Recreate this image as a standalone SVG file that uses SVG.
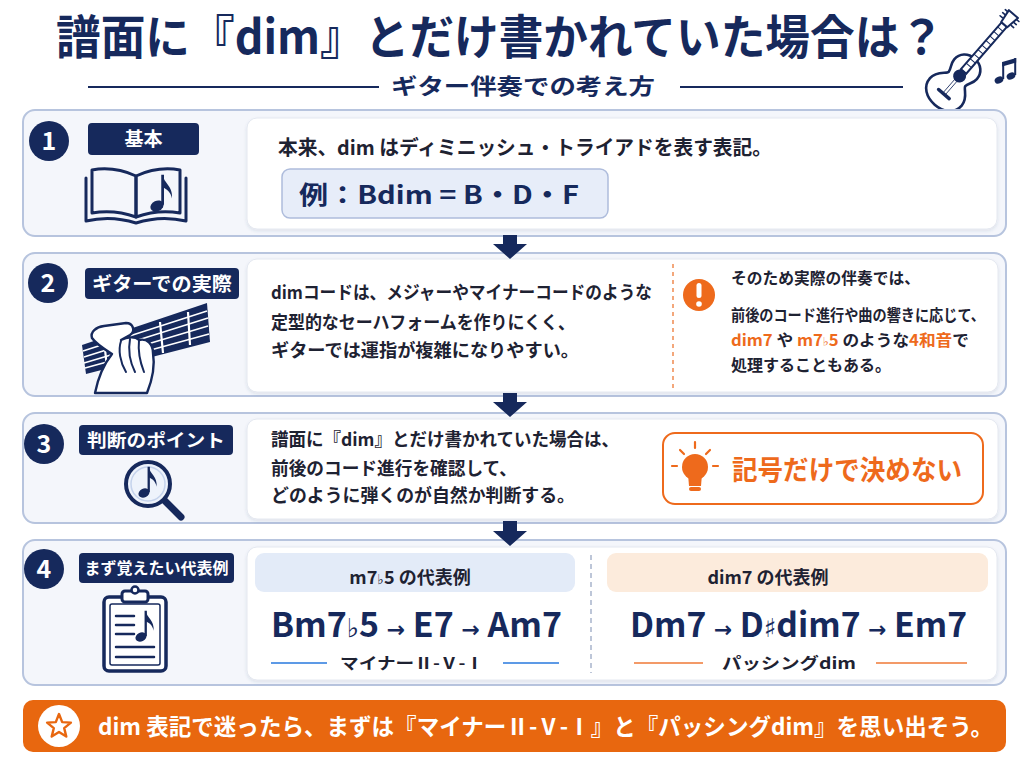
<svg xmlns="http://www.w3.org/2000/svg" width="1024" height="768" viewBox="0 0 1024 768">
<style>
.t{font-family:"Noto Sans CJK JP","Noto Sans",sans-serif;font-weight:700}
.s{font-family:"DejaVu Sans","Noto Sans CJK JP",sans-serif}
.nv{fill:#16295c}
.bd{fill:#1e2232}
.o{fill:#ee6a1c}
.w{fill:#ffffff}
.panel{fill:#f4f6fb;stroke:#b7c4de;stroke-width:2}
.card{fill:#ffffff;stroke:#e4e8f0;stroke-width:1}
.tag{fill:#16295c}
.ic{fill:none;stroke:#16295c;stroke-width:3;stroke-linecap:round;stroke-linejoin:round}
</style>
<defs>
<filter id="sh" x="-5%" y="-5%" width="110%" height="120%">
<feDropShadow dx="0" dy="1.5" stdDeviation="1.5" flood-color="#3a4a70" flood-opacity="0.12"/>
</filter>
<g id="note">
<ellipse cx="0" cy="0" rx="5.5" ry="4.2" transform="rotate(-25)" fill="#16295c"/>
<rect x="3.4" y="-25" width="2.2" height="24" fill="#16295c"/>
<path d="M4.5,-25 C5.5,-18 13,-16 12,-6 C11,-11 8,-13.5 4.5,-15 Z" fill="#16295c"/>
</g>
</defs>
<rect width="1024" height="768" fill="#ffffff"/>

<g id="title">
<text class="t nv" x="56" y="54" font-size="47" font-weight="900" textLength="888" lengthAdjust="spacingAndGlyphs">譜面に『dim』とだけ書かれていた場合は？</text>
<text class="t nv" x="391" y="94" font-size="22" textLength="264" lengthAdjust="spacingAndGlyphs">ギター伴奏での考え方</text>
<line x1="88" y1="87" x2="379" y2="87" stroke="#16295c" stroke-width="2"/>
<line x1="680" y1="87" x2="903" y2="87" stroke="#16295c" stroke-width="2"/>
</g>

<g id="guitar-icon">
<g transform="translate(957,79) rotate(41)">
<path d="M0,-27 C9,-27 15,-21 15,-13 C15,-7 11,-4 11,0 C11,3 21,7 21,17 C21,28 11,34 0,34 C-11,34 -21,28 -21,17 C-21,7 -11,3 -11,0 C-11,-4 -15,-7 -15,-13 C-15,-21 -9,-27 0,-27 Z" fill="#ffffff" stroke="#16295c" stroke-width="2.6"/>
<line x1="-1.5" y1="0" x2="-1.5" y2="20" stroke="#16295c" stroke-width="0.8"/>
<line x1="1.5" y1="0" x2="1.5" y2="20" stroke="#16295c" stroke-width="0.8"/>
<rect x="-3.5" y="-72" width="7" height="62" fill="#ffffff" stroke="#16295c" stroke-width="2"/>
<path d="M-3.5,-66 H3.5 M-3.5,-60 H3.5 M-3.5,-54 H3.5 M-3.5,-48 H3.5 M-3.5,-42 H3.5 M-3.5,-36 H3.5 M-3.5,-30 H3.5 M-3.5,-24 H3.5 M-3.5,-18 H3.5" stroke="#16295c" stroke-width="1"/>
<circle cx="0" cy="-4" r="6.5" fill="#16295c"/>
<line x1="-7" y1="20" x2="7" y2="20" stroke="#16295c" stroke-width="3.5" stroke-linecap="round"/>
<path d="M-4,-72 L-6,-86 L6,-86 L4,-72 Z" fill="#ffffff" stroke="#16295c" stroke-width="2" stroke-linejoin="round"/>
<path d="M-6,-76 H-9 M-6,-80 H-9 M-6,-84 H-9 M6,-76 H9 M6,-80 H9 M6,-84 H9" stroke="#16295c" stroke-width="1.6" stroke-linecap="round"/>
</g>
<g fill="#16295c">
<ellipse cx="999" cy="80" rx="4.5" ry="3.4" transform="rotate(-25 999 80)"/>
<ellipse cx="1011" cy="76" rx="4.5" ry="3.4" transform="rotate(-25 1011 76)"/>
<rect x="1002.2" y="62" width="2" height="17"/>
<rect x="1014.2" y="58" width="2" height="17"/>
<path d="M1002.2,62 L1016.2,58 L1016.2,62.5 L1002.2,66.5 Z"/>
</g>
</g>

<g id="node1">
<rect class="panel" x="23" y="110" width="983" height="126" rx="12"/>
<rect class="card" x="247" y="118" width="750" height="111" rx="10" filter="url(#sh)"/>
<circle cx="49" cy="141" r="20" fill="#16295c"/>
<text class="t w" x="49" y="150" font-size="25" text-anchor="middle">1</text>
<rect class="tag" x="88" y="123" width="111" height="32" rx="4"/>
<text class="t w" x="143.5" y="146" font-size="19" text-anchor="middle">基本</text>
<g id="book">
<path class="ic" d="M86,178 L86,221 Q111,215 136,223 Q161,215 186,221 L186,178"/>
<path class="ic" fill="#ffffff" d="M136,176 Q114,166 92,170 L92,213 Q114,209 136,217 Z"/>
<path class="ic" fill="#ffffff" d="M136,176 Q158,166 180,170 L180,213 Q158,209 136,217 Z"/>
<use href="#note" transform="translate(157,206) scale(1.25)"/>
</g>
<text class="t bd" x="278" y="155" font-size="20" textLength="494" lengthAdjust="spacingAndGlyphs">本来、dim はディミニッシュ・トライアドを表す表記。</text>
<rect x="282" y="169" width="326" height="49" rx="8" fill="#e7edf9" stroke="#aebcdc" stroke-width="1.5"/>
<text class="t nv" x="299" y="204" font-size="25" textLength="280" lengthAdjust="spacingAndGlyphs">例：Bdim = B・D・F</text>
</g>

<g id="node2">
<rect class="panel" x="23" y="253" width="983" height="143" rx="12"/>
<rect class="card" x="247" y="259" width="751" height="133" rx="10" filter="url(#sh)"/>
<circle cx="48" cy="283" r="20" fill="#16295c"/>
<text class="t w" x="48" y="292" font-size="25" text-anchor="middle">2</text>
<rect class="tag" x="85" y="268" width="154" height="31" rx="4"/>
<text class="t w" x="162" y="291" font-size="19" text-anchor="middle" textLength="140" lengthAdjust="spacingAndGlyphs">ギターでの実際</text>
<g id="hand">
<path d="M82,345 L207,303 L210,342 L86,374 Z" fill="#16295c"/>
<path d="M83,351 L207,311 M84,357 L208,318 M84,363 L208,326 M85,368 L209,334" stroke="#ffffff" stroke-width="1.6"/>
<path d="M104,340 L107,368 M130,332 L133,361 M160,322 L163,353 M188,312 L190,345" stroke="#ffffff" stroke-width="2.2"/>
<path d="M95,393 C98,378 104,364 112,354 C104,349 96,344 92,338 C90,332 96,327 104,326 L126,323 C133,323 136,331 130,335 L121,340 C127,337 135,336 139,340 C147,338 153,344 153,353 C155,365 153,378 147,393 Z" fill="#ffffff" stroke="#16295c" stroke-width="2.4" stroke-linejoin="round"/>
<path d="M121,341 C118,350 120,362 126,372 M130,339 C128,350 130,362 135,372 M139,340 C138,350 140,362 144,372" fill="none" stroke="#16295c" stroke-width="2" stroke-linecap="round"/>
</g>
<text class="t bd" x="271" y="299" font-size="18" textLength="381" lengthAdjust="spacingAndGlyphs">dimコードは、メジャーやマイナーコードのような</text>
<text class="t bd" x="271" y="329" font-size="18" textLength="304" lengthAdjust="spacingAndGlyphs">定型的なセーハフォームを作りにくく、</text>
<text class="t bd" x="271" y="357" font-size="18" textLength="308" lengthAdjust="spacingAndGlyphs">ギターでは運指が複雑になりやすい。</text>
<line x1="673" y1="264" x2="673" y2="388" stroke="#f08a50" stroke-width="1.5" stroke-dasharray="4 4"/>
<g id="alert">
<circle cx="699" cy="295" r="16" fill="#ee6a1c"/>
<rect x="696.5" y="283" width="5" height="15" rx="2.5" fill="#ffffff"/>
<circle cx="699" cy="304" r="2.8" fill="#ffffff"/>
</g>
<text class="t bd" x="731" y="284" font-size="16" textLength="189" lengthAdjust="spacingAndGlyphs">そのため実際の伴奏では、</text>
<text class="t bd" x="731" y="321" font-size="16" textLength="254" lengthAdjust="spacingAndGlyphs">前後のコード進行や曲の響きに応じて、</text>
<text class="t bd" x="731" y="346" font-size="16" textLength="238" lengthAdjust="spacingAndGlyphs"><tspan class="o">dim7</tspan> や <tspan class="o">m7<tspan class="s" font-size="12">♭</tspan>5</tspan> のような<tspan class="o">4和音</tspan>で</text>
<text class="t bd" x="731" y="371" font-size="16" textLength="160" lengthAdjust="spacingAndGlyphs">処理することもある。</text>
</g>

<g id="node3">
<rect class="panel" x="23" y="413" width="983" height="110" rx="12"/>
<rect class="card" x="247" y="419" width="751" height="100" rx="10" filter="url(#sh)"/>
<circle cx="44" cy="444" r="20" fill="#16295c"/>
<text class="t w" x="44" y="453" font-size="25" text-anchor="middle">3</text>
<rect class="tag" x="79" y="425" width="154" height="30" rx="4"/>
<text class="t w" x="156" y="447" font-size="18" text-anchor="middle" textLength="138" lengthAdjust="spacingAndGlyphs">判断のポイント</text>
<g id="magnifier">
<line x1="164" y1="500" x2="181" y2="517" stroke="#16295c" stroke-width="7" stroke-linecap="round"/>
<circle cx="148" cy="484" r="22" fill="#eef3fb" stroke="#16295c" stroke-width="4"/>
<circle cx="148" cy="484" r="17" fill="none" stroke="#c5d3ec" stroke-width="1.5"/>
<use href="#note" transform="translate(144,493) scale(1.05)"/>
</g>
<text class="t bd" x="271" y="446" font-size="18" textLength="348" lengthAdjust="spacingAndGlyphs">譜面に『dim』とだけ書かれていた場合は、</text>
<text class="t bd" x="271" y="475" font-size="18" textLength="246" lengthAdjust="spacingAndGlyphs">前後のコード進行を確認して、</text>
<text class="t bd" x="271" y="502" font-size="18" textLength="304" lengthAdjust="spacingAndGlyphs">どのように弾くのが自然か判断する。</text>
<rect x="663" y="433" width="320" height="71" rx="12" fill="#ffffff" stroke="#ee6a1c" stroke-width="2"/>
<g id="bulb">
<circle cx="695" cy="467" r="13" fill="#ee6a1c"/>
<path d="M688,474 L702,474 L701,486 L689,486 Z" fill="#ee6a1c"/>
<rect x="689" y="487" width="12" height="4" rx="2" fill="#ee6a1c"/>
<path d="M695,442 V448 M680,450 L684,454 M710,450 L706,454 M672,466 H677 M713,466 H718" stroke="#ee6a1c" stroke-width="2.2" stroke-linecap="round"/>
</g>
<text class="t o" x="732" y="480" font-size="27" textLength="230" lengthAdjust="spacingAndGlyphs">記号だけで決めない</text>
</g>

<g id="node4">
<rect class="panel" x="23" y="540" width="983" height="145" rx="12"/>
<rect class="card" x="247" y="547" width="750" height="133" rx="10" filter="url(#sh)"/>
<circle cx="44" cy="569" r="20" fill="#16295c"/>
<text class="t w" x="44" y="578" font-size="25" text-anchor="middle">4</text>
<rect class="tag" x="79" y="553" width="155" height="30" rx="4"/>
<text class="t w" x="156.5" y="574" font-size="16" text-anchor="middle" textLength="144" lengthAdjust="spacingAndGlyphs">まず覚えたい代表例</text>
<g id="clipboard">
<rect x="104" y="597" width="62" height="74" rx="5" fill="#ffffff" stroke="#16295c" stroke-width="3.5"/>
<rect x="110" y="604" width="50" height="61" rx="2" fill="none" stroke="#16295c" stroke-width="1.5"/>
<rect x="122" y="591" width="26" height="11" rx="3" fill="#ffffff" stroke="#16295c" stroke-width="3"/>
<circle cx="135" cy="590" r="3.5" fill="#ffffff" stroke="#16295c" stroke-width="2.5"/>
<path d="M116,616 H134 M116,625 H134 M116,634 H134 M116,647 H154 M116,657 H154" stroke="#16295c" stroke-width="2.5" stroke-linecap="round"/>
<use href="#note" transform="translate(141,637) scale(1.05)"/>
</g>
<rect x="255" y="553" width="320" height="39" rx="9" fill="#e3ebf8"/>
<text class="t bd" x="410" y="584" font-size="18" text-anchor="middle">m7<tspan class="s" font-size="14">♭</tspan>5 の代表例</text>
<rect x="607" y="553" width="381" height="39" rx="9" fill="#fcebdc"/>
<text class="t bd" x="768" y="584" font-size="18" text-anchor="middle">dim7 の代表例</text>
<line x1="591" y1="555" x2="591" y2="673" stroke="#9aa8c4" stroke-width="1.3" stroke-dasharray="5 4"/>
<text class="t nv" x="271" y="637" font-size="34" textLength="291" lengthAdjust="spacingAndGlyphs">Bm7<tspan class="s" font-size="26">♭</tspan>5 <tspan class="s" font-size="22">→</tspan> E7 <tspan class="s" font-size="22">→</tspan> Am7</text>
<text class="t nv" x="630" y="637" font-size="34" textLength="337" lengthAdjust="spacingAndGlyphs">Dm7 <tspan class="s" font-size="22">→</tspan> D<tspan class="s" font-size="26">♯</tspan>dim7 <tspan class="s" font-size="22">→</tspan> Em7</text>
<line x1="271" y1="663" x2="327" y2="663" stroke="#5d9ae6" stroke-width="2"/>
<line x1="503" y1="663" x2="559" y2="663" stroke="#5d9ae6" stroke-width="2"/>
<text class="t bd" x="412" y="669" font-size="16" text-anchor="middle" textLength="144" lengthAdjust="spacingAndGlyphs">マイナーⅡ-Ⅴ-Ⅰ</text>
<line x1="634" y1="663" x2="703" y2="663" stroke="#f39a68" stroke-width="2"/>
<line x1="876" y1="663" x2="967" y2="663" stroke="#f39a68" stroke-width="2"/>
<text class="t bd" x="789" y="669" font-size="16" text-anchor="middle" textLength="134" lengthAdjust="spacingAndGlyphs">パッシングdim</text>
</g>

<g id="banner">
<rect x="23" y="700" width="983" height="52" rx="10" fill="#e8670f"/>
<circle cx="59" cy="726" r="21" fill="#ffffff"/>
<polygon points="59,714 62.2,722.1 70.9,722.6 64.2,728.1 66.3,736.6 59,731.9 51.7,736.6 53.8,728.1 47.1,722.6 55.8,722.1" fill="#ffffff" stroke="#e8670f" stroke-width="2.4" stroke-linejoin="round"/>
<text class="t w" x="98" y="735" font-size="23" textLength="895" lengthAdjust="spacingAndGlyphs">dim 表記で迷ったら、まずは『マイナーⅡ-Ⅴ-Ⅰ』と『パッシングdim』を思い出そう。</text>
</g>

<g id="connectors">
<path d="M503,235 H517 V244 H527 L510,259 L493,244 H503 Z" fill="#16295c"/>
<path d="M503,393 H517 V402 H527 L510,417 L493,402 H503 Z" fill="#16295c"/>
<path d="M503,521 H517 V531 H527 L510,546 L493,531 H503 Z" fill="#16295c"/>
</g>
</svg>
